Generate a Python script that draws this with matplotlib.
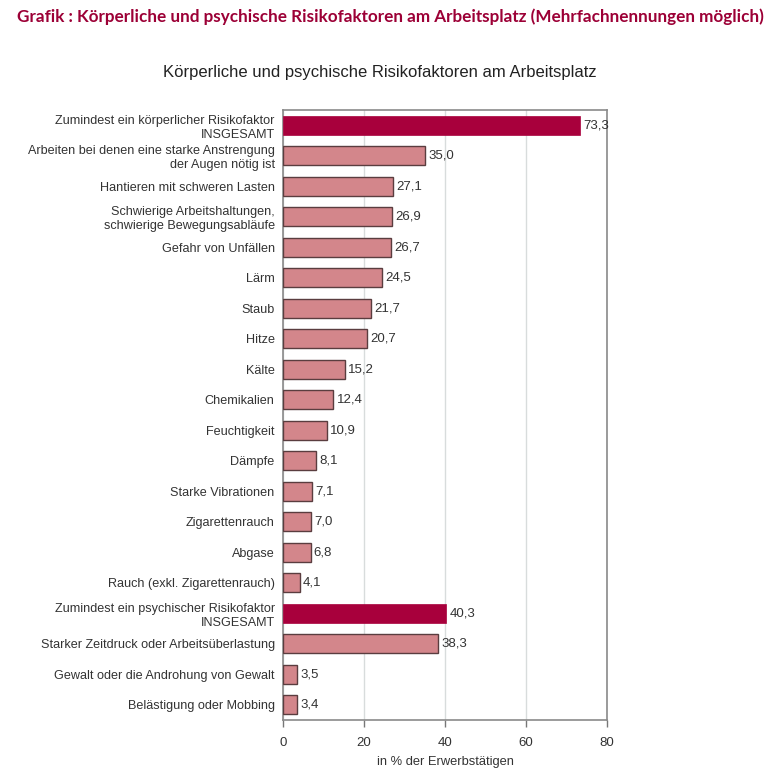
import matplotlib
matplotlib.use("Agg")
import matplotlib.pyplot as plt

categories = [
    "Zumindest ein körperlicher Risikofaktor\nINSGESAMT",
    "Arbeiten bei denen eine starke Anstrengung\nder Augen nötig ist",
    "Hantieren mit schweren Lasten",
    "Schwierige Arbeitshaltungen,\nschwierige Bewegungsabläufe",
    "Gefahr von Unfällen",
    "Lärm",
    "Staub",
    "Hitze",
    "Kälte",
    "Chemikalien",
    "Feuchtigkeit",
    "Dämpfe",
    "Starke Vibrationen",
    "Zigarettenrauch",
    "Abgase",
    "Rauch (exkl. Zigarettenrauch)",
    "Zumindest ein psychischer Risikofaktor\nINSGESAMT",
    "Starker Zeitdruck oder Arbeitsüberlastung",
    "Gewalt oder die Androhung von Gewalt",
    "Belästigung oder Mobbing",
]
values = [73.3, 35.0, 27.1, 26.9, 26.7, 24.5, 21.7, 20.7, 15.2, 12.4,
          10.9, 8.1, 7.1, 7.0, 6.8, 4.1, 40.3, 38.3, 3.5, 3.4]
is_total = [True] + [False] * 15 + [True] + [False] * 3
xticks = [0, 20, 40, 60, 80]

header = "Grafik : Körperliche und psychische Risikofaktoren am Arbeitsplatz (Mehrfachnennungen möglich)"
title = "Körperliche und psychische Risikofaktoren am Arbeitsplatz"
xlabel = "in % der Erwerbstätigen"

DARK = "#A8003C"
PINK = "#D3868B"
TXT = "#333333"

plt.rcParams["font.family"] = ["Liberation Sans", "DejaVu Sans"]

fig = plt.figure(figsize=(7.79, 7.76), dpi=100)
ax = fig.add_axes([283 / 779, 1 - 720 / 776, (607 - 283) / 779, (720 - 110) / 776])

ypos = list(range(len(values)))
for y, v, t in zip(ypos, values, is_total):
    ax.barh(y, v, height=0.63, color=DARK if t else PINK,
            edgecolor=DARK if t else "#5a3d3f", linewidth=1.0 if not t else 0.5, zorder=3)
    ax.text(v + 0.8, y, f"{v:.1f}".replace(".", ","), va="center", ha="left",
            fontsize=9.5, color=TXT, zorder=4)

ax.set_ylim(len(values) - 0.5, -0.5)
ax.set_xlim(0, 80)
ax.set_yticks(ypos)
ax.set_yticklabels(categories, fontsize=9.1, color=TXT, linespacing=1.2)
ax.tick_params(axis="y", length=0, pad=6)
ax.set_xticks(xticks)
ax.set_xticklabels([str(x) for x in xticks], fontsize=9.5, color=TXT)
ax.tick_params(axis="x", length=5, width=1, color="#777777", pad=7, direction="out")
for lbl in ax.get_yticklabels():
    lbl.set_ha("right")
ax.grid(axis="x", color="#d8dcdc", linewidth=1, zorder=0)
for s in ax.spines.values():
    s.set_color("#8a8a8a")
    s.set_linewidth(1.2)
ax.set_xlabel(xlabel, fontsize=9.3, color=TXT, labelpad=5)

fig.text(380 / 779, 1 - 73 / 776, title, ha="center", va="center",
         fontsize=12, color="#222222")
fig.text(390 / 779, 1 - 17 / 776, header, ha="center", va="center",
         fontsize=12.3, fontweight="bold", color="#9C0036", family=["Lato", "DejaVu Sans"])

fig.savefig("out.png", dpi=100)
